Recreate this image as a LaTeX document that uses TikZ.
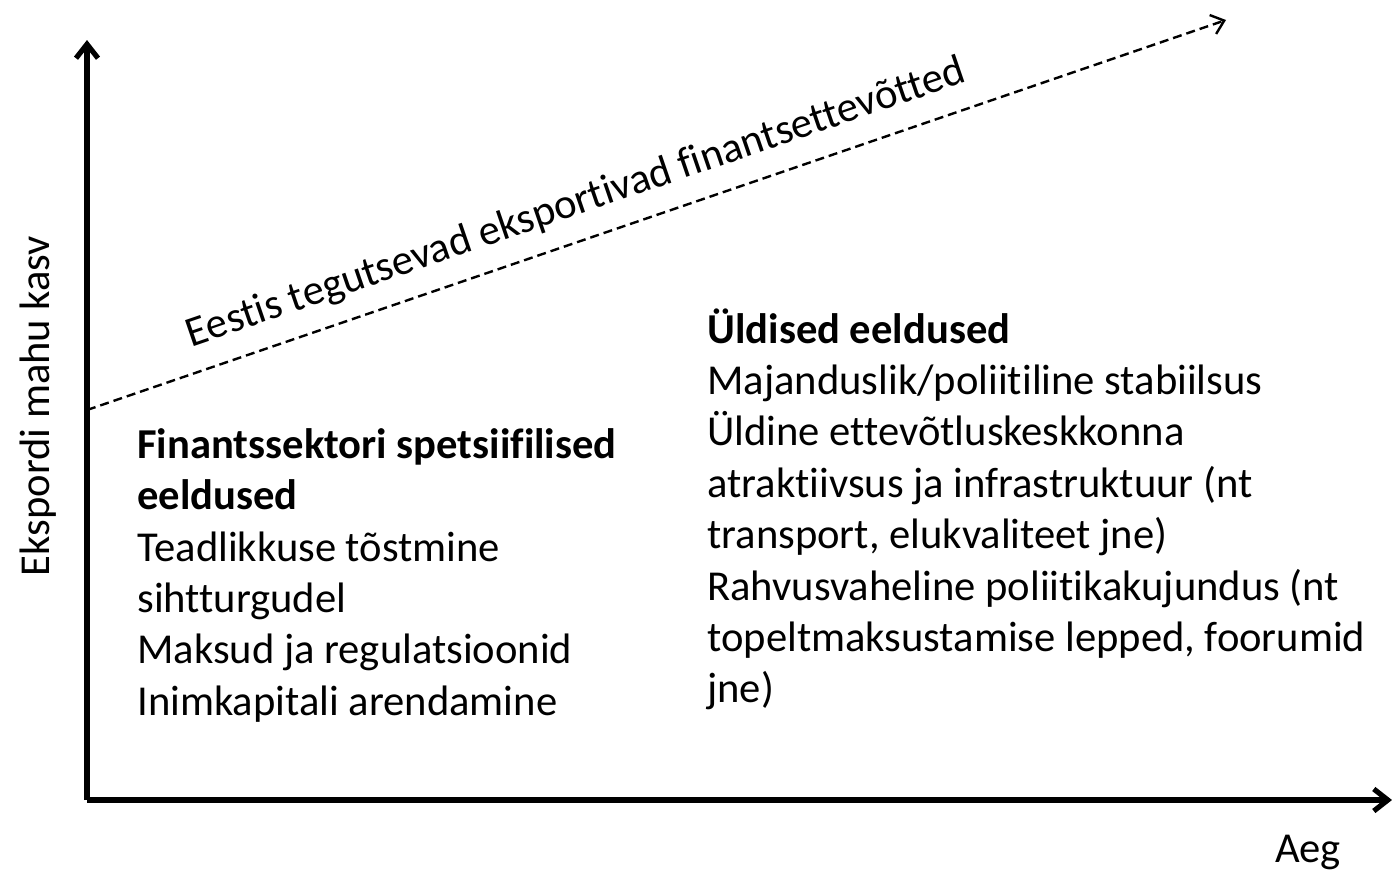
\documentclass[tikz,border=0pt]{standalone}
\usepackage{fontspec}
\setmainfont{Carlito}[Ligatures={NoCommon}]
\usetikzlibrary{arrows.meta}

\begin{document}
\begin{tikzpicture}[x=0.5pt,y=-0.5pt,
    axis/.style={line width=2.6pt,-{Straight Barb[length=7pt,width=11pt]}},
    trend/.style={line width=1.2pt,dash pattern=on 4.5pt off 2.5pt,-{Straight Barb[length=6pt,width=10pt]}},
    txt/.style={font=\fontsize{21.3}{25.7}\selectfont,align=left,inner sep=0pt,anchor=north west}]

	\useasboundingbox (0,0) rectangle (1392,873);

	%% corner of the axes and the axis ends
	\coordinate (O) at (87,800);
	\coordinate (Ytop) at (87,40);
	\coordinate (Xend) at (1392,800);

	%% dashed trend line
	\coordinate (T1) at (87,410);
	\coordinate (T2) at (1226,20);

	\draw[axis] (O) -- (Ytop);
	\draw[axis] (O) -- (Xend);
	\draw[trend] (T1) -- (T2)
	  node[pos=0.44,sloped,above=8.5pt,font=\fontsize{21.3}{25.7}\selectfont,inner sep=0pt] (trendlbl)
	  {Eestis tegutsevad eksportivad finantsettevõtted};

	%% axis labels
	\node[rotate=90,font=\fontsize{21.3}{25.7}\selectfont] (ylbl) at (38,406) {Ekspordi mahu kasv};
	\node[font=\fontsize{21.3}{25.7}\selectfont] (xlbl) at (1308,852) {Aeg};

	%% text blocks
	\node[txt] (spec) at (137,428) {\textbf{Finantssektori spetsiifilised}\\
	  \textbf{eeldused}\\
	  Teadlikkuse tõstmine\\
	  sihtturgudel\\
	  Maksud ja regulatsioonid\\
	  Inimkapitali arendamine};
	\node[txt] (gen) at (707,308) {\textbf{Üldised eeldused}\\
	  Majanduslik/poliitiline stabiilsus\\
	  Üldine ettevõtluskeskkonna\\
	  atraktiivsus ja infrastruktuur (nt\\
	  transport, elukvaliteet jne)\\
	  Rahvusvaheline poliitikakujundus (nt\\
	  topeltmaksustamise lepped, foorumid\\
	  jne)};

\end{tikzpicture}
\end{document}
